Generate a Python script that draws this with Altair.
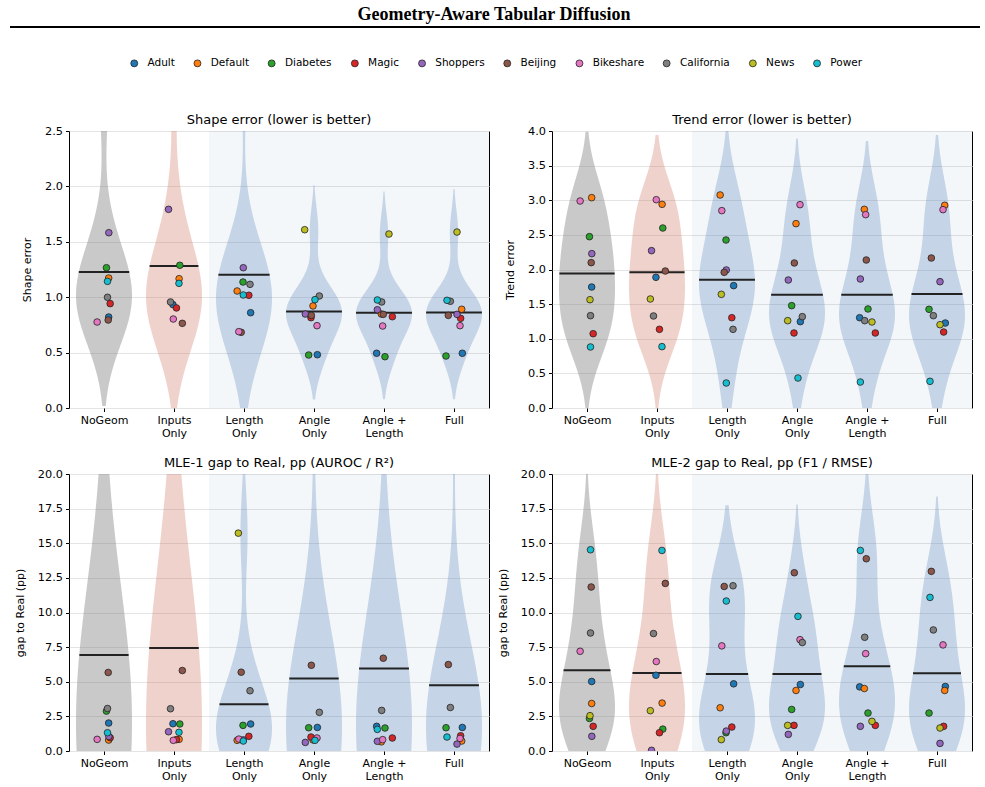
import json
import numpy as np
import pandas as pd
import altair as alt

FIG_TITLE = "Geometry-Aware Tabular Diffusion"

datasets = ["Adult", "Default", "Diabetes", "Magic", "Shoppers",
            "Beijing", "Bikeshare", "California", "News", "Power"]
dataset_colors = ["#1f77b4", "#ff7f0e", "#2ca02c", "#d62728", "#9467bd",
                  "#8c564b", "#e377c2", "#7f7f7f", "#bcbd22", "#17becf"]

variants = ["NoGeom", "Inputs Only", "Length Only", "Angle Only", "Angle + Length", "Full"]
variant_lines = [["NoGeom"], ["Inputs", "Only"], ["Length", "Only"],
                 ["Angle", "Only"], ["Angle +", "Length"], ["Full"]]
GEOM_START = 2  # first geometry-aware variant (shaded band)

# rows follow `variants`, columns follow `datasets`
shape_error = [
    [0.821, 1.173, 1.266, 0.942, 1.582, 0.794, 0.776, 0.999, 2.78, 1.143],
    [0.933, 1.167, 1.288, 0.903, 1.793, 0.764, 0.803, 0.957, 3.09, 1.125],
    [0.860, 1.056, 1.137, 1.017, 1.266, 0.683, 0.689, 1.116, 3.19, 1.020],
    [0.481, 0.921, 0.478, 0.815, 0.848, 0.836, 0.743, 1.011, 1.609, 0.978],
    [0.494, 0.848, 0.463, 0.824, 0.887, 0.845, 0.740, 0.957, 1.570, 0.975],
    [0.494, 0.891, 0.469, 0.809, 0.845, 0.836, 0.743, 0.963, 1.588, 0.972],
]
trend_error = [
    [1.747, 3.037, 2.474, 1.073, 2.229, 2.099, 2.989, 1.333, 1.564, 0.881],
    [1.887, 2.941, 2.599, 1.136, 2.272, 1.978, 3.008, 1.329, 1.574, 0.886],
    [1.767, 3.076, 2.426, 1.304, 1.993, 1.959, 2.850, 1.136, 1.641, 0.361],
    [1.247, 2.662, 1.478, 1.083, 1.848, 2.094, 2.936, 1.319, 1.261, 0.433],
    [1.304, 2.869, 1.430, 1.083, 1.863, 2.137, 2.792, 1.261, 1.242, 0.375],
    [1.227, 2.927, 1.425, 1.097, 1.824, 2.166, 2.864, 1.333, 1.203, 0.385],
]
mle1_gap = [
    [2.02, 0.79, 2.88, 0.96, 1.05, 5.67, 0.84, 3.07, 50.8, 1.32],
    [1.97, 0.84, 1.95, 0.82, 1.39, 5.81, 0.77, 3.05, 56.5, 1.35],
    [1.95, 0.77, 1.85, 1.06, 0.80, 5.69, 0.86, 4.35, 15.73, 0.72],
    [1.70, 0.80, 1.68, 1.01, 0.62, 6.19, 0.94, 2.79, 35.9, 0.77],
    [1.78, 0.66, 1.66, 0.94, 0.70, 6.70, 0.82, 2.93, 41.8, 1.56],
    [1.70, 0.72, 1.68, 1.10, 0.50, 6.24, 0.91, 3.14, 30.5, 1.01],
]
mle2_gap = [
    [5.02, 3.43, 2.35, 1.78, 1.06, 11.84, 7.20, 8.52, 2.55, 14.53],
    [5.47, 3.46, 1.58, 1.32, 0.05, 12.10, 6.46, 8.48, 2.91, 14.48],
    [4.85, 3.12, 1.32, 1.73, 1.44, 11.88, 7.59, 11.93, 0.82, 10.83],
    [4.80, 4.37, 3.00, 1.85, 1.20, 12.87, 8.04, 7.83, 1.85, 9.72],
    [4.63, 4.51, 2.74, 1.85, 1.78, 13.88, 7.03, 8.21, 2.14, 14.48],
    [4.66, 4.37, 2.74, 1.78, 0.55, 12.97, 7.66, 8.74, 1.66, 11.09],
]

# strip-plot offsets in category units, same draw for every panel
jitter = [
    [0.067, 0.067, 0.035, 0.088, 0.069, 0.060, -0.098, 0.050, 0.043, 0.050],
    [-0.015, 0.073, 0.083, 0.035, -0.078, 0.119, -0.010, -0.050, -0.095, 0.071],
    [0.095, -0.098, -0.014, 0.069, -0.010, -0.040, -0.074, 0.086, -0.081, -0.010],
    [0.048, -0.014, -0.076, -0.043, -0.124, -0.038, 0.043, 0.076, -0.133, 0.014],
    [-0.105, -0.038, 0.014, 0.119, -0.095, -0.010, -0.019, -0.033, 0.071, -0.095],
    [0.119, 0.110, -0.114, 0.095, 0.043, -0.081, 0.086, -0.052, 0.043, -0.100],
]

violin_fill = ["#7f7f7f", "#cd6958", "#5b84b8", "#5b84b8", "#5b84b8", "#5b84b8"]
violin_alpha = [0.42, 0.30, 0.30, 0.30, 0.30, 0.30]

panels = [
    dict(values=shape_error, title="Shape error (lower is better)", ytitle="Shape error",
         ymax=2.5, step=0.5),
    dict(values=trend_error, title="Trend error (lower is better)", ytitle="Trend error",
         ymax=4.0, step=0.5),
    dict(values=mle1_gap, title="MLE-1 gap to Real, pp (AUROC / R\u00b2)", ytitle="gap to Real (pp)",
         ymax=20.0, step=2.5),
    dict(values=mle2_gap, title="MLE-2 gap to Real, pp (F1 / RMSE)", ytitle="gap to Real (pp)",
         ymax=20.0, step=2.5),
]

PW, PH = 420, 277
HALF = 0.4          # max half-width of a violin, category units
FONT = "DejaVu Sans"

legend = alt.Legend(
    title=None, orient="none", legendX=60, legendY=51, direction="horizontal",
    symbolType="circle", symbolSize=48, symbolStrokeColor="#222222",
    symbolStrokeWidth=0.8, symbolOpacity=1, labelFont=FONT, labelFontSize=10.5,
    labelColor="black", labelOffset=8, columnPadding=17.2, padding=0,
)


def long_frame(values):
    rows = []
    for vi, row in enumerate(values):
        for di, v in enumerate(row):
            rows.append({"variant": vi, "dataset": datasets[di],
                         "value": v, "jitter": jitter[vi][di]})
    return pd.DataFrame(rows)


def kde_params(vals):
    """Scott bandwidth and a support cut two bandwidths past the data."""
    v = np.asarray(vals, dtype=float)
    bw = float(v.std(ddof=1) * len(v) ** (-0.2))
    return bw, [float(v.min() - 2 * bw), float(v.max() + 2 * bw)]


def build_panel(p):
    d = long_frame(p["values"])
    n = len(variants)
    xs = alt.Scale(domain=[-0.5, n - 0.5], nice=False, zero=False)
    ys = alt.Scale(domain=[0, p["ymax"]], nice=False, zero=False)
    ticks = [float(round(v, 2)) for v in np.arange(0, p["ymax"] + 1e-9, p["step"])]
    xa = alt.Axis(values=list(range(n)), labelExpr=json.dumps(variant_lines) + "[datum.value]",
                  title=None, grid=False, domain=False, tickSize=3.5, tickColor="black",
                  tickWidth=1, labelFontSize=11, labelPadding=3, labelLineHeight=13,
                  labelOverlap=False, labelFlush=False, labelColor="black", labelFont=FONT)
    ya = alt.Axis(values=ticks, format=".1f", title=p["ytitle"], grid=True, gridColor="#e4e4e4",
                  gridWidth=1, domain=False, tickSize=3.5, tickColor="black", tickWidth=1,
                  labelFontSize=11.3, labelPadding=3, labelFlush=False, labelColor="black",
                  labelFont=FONT, titleFont=FONT, titleFontSize=11, titleFontWeight="normal",
                  titleColor="black", titlePadding=12)

    shade = alt.Chart(d).transform_aggregate(n="count()").mark_rect(
        color="#4c72b0", opacity=0.06
    ).encode(
        x=alt.XDatum(GEOM_START - 0.5, type="quantitative", scale=xs, axis=xa),
        x2=alt.X2Datum(n - 0.5),
        y=alt.value(0), y2=alt.value(PH),
    )

    layers = [shade]
    for i in range(n):
        bw, ext = kde_params(p["values"][i])
        base = (
            alt.Chart(d)
            .transform_filter(alt.datum.variant == i)
            .transform_joinaggregate(m="mean(value)")
            .transform_density("value", groupby=["m"], bandwidth=bw, extent=ext,
                               steps=300, as_=["yv", "dens"])
            .transform_joinaggregate(dmax="max(dens)")
            .transform_calculate(lo=f"{i} - {HALF} * datum.dens / datum.dmax",
                                 hi=f"{i} + {HALF} * datum.dens / datum.dmax")
        )
        area = base.mark_area(orient="horizontal", color=violin_fill[i],
                              opacity=violin_alpha[i], clip=True).encode(
            y=alt.Y("yv:Q", scale=ys, axis=ya),
            x=alt.X("lo:Q", scale=xs, axis=xa),
            x2=alt.X2("hi"),
        )
        # mean marker: a bar across the violin at the mean value
        mean_rule = (
            base.transform_calculate(dd="abs(datum.yv - datum.m)")
            .transform_joinaggregate(ddmin="min(dd)")
            .transform_filter("datum.dd == datum.ddmin")
            .mark_rule(color="#222222", strokeWidth=2, clip=True)
            .encode(y=alt.Y("m:Q", scale=ys, axis=ya),
                    x=alt.X("lo:Q", scale=xs, axis=xa),
                    x2=alt.X2("hi"))
        )
        layers += [area, mean_rule]

    pts = (
        alt.Chart(d)
        .transform_calculate(xj="datum.variant + datum.jitter")
        .mark_circle(size=44, opacity=1, stroke="#222222", strokeWidth=0.8, clip=True)
        .encode(
            x=alt.X("xj:Q", scale=xs, axis=xa),
            y=alt.Y("value:Q", scale=ys, axis=ya),
            color=alt.Color("dataset:N",
                            scale=alt.Scale(domain=datasets, range=dataset_colors),
                            legend=legend),
        )
    )
    layers.append(pts)
    return alt.layer(*layers).properties(
        width=PW, height=PH,
        title=alt.TitleParams(p["title"], font=FONT, fontSize=13, fontWeight="normal",
                              color="black", anchor="middle", offset=-2),
    )


grid = alt.concat(*[build_panel(p) for p in panels], columns=2,
                  spacing={"row": 66, "column": 63}, bounds="flush")

hdr = pd.DataFrame({"label": [FIG_TITLE]})
head_text = alt.Chart(hdr).mark_text(
    font="Liberation Serif", fontWeight="bold", fontSize=18, align="center",
    baseline="middle", color="black"
).encode(text="label:N", x=alt.value(425), y=alt.value(8))
head_rule = alt.Chart(hdr).mark_rule(color="black", strokeWidth=2).encode(
    x=alt.value(-59), x2=alt.value(911), y=alt.value(20)
)
header = alt.layer(head_text, head_rule).properties(
    width=2 * PW + 63, height=30, view=alt.ViewBackground(stroke="transparent")
)

chart = (
    alt.vconcat(header, grid, spacing=94, bounds="flush")
    .properties(padding={"left": 8, "top": 5, "right": 0, "bottom": 0})
    .configure_view(stroke="black", strokeWidth=1)
    .configure_axis(labelFont=FONT, titleFont=FONT)
)

chart.save("out.html", embed_options={"renderer": "svg", "actions": False})
